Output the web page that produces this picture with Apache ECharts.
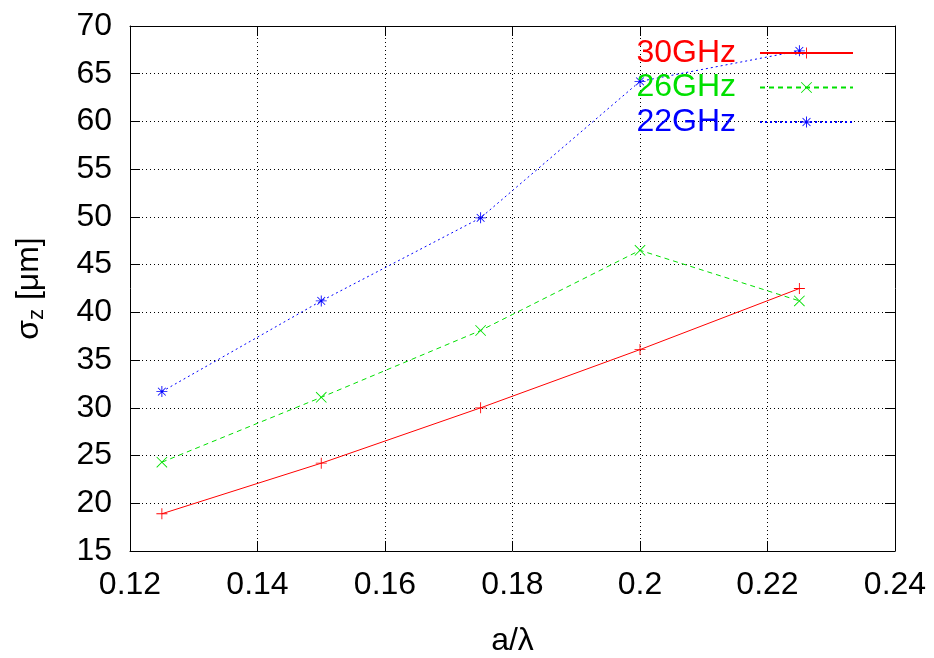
<!DOCTYPE html>
<html><head><meta charset="utf-8">
<script src="https://cdn.jsdelivr.net/npm/echarts@6/dist/echarts.min.js"></script>
<style>html,body{margin:0;padding:0;background:#fff;overflow:hidden}#c{width:934px;height:658px}</style>
</head><body><div id="c"></div>
<script>
const xValues = [0.125, 0.15, 0.175, 0.2, 0.225];
const s30 = [18.9, 24.2, 30.0, 36.1, 42.5];
const s26 = [24.3, 31.1, 38.1, 46.5, 41.2];
const s22 = [31.7, 41.2, 49.9, 64.2, 67.4];
const seriesNames = ['30GHz', '26GHz', '22GHz'];
const xTicks = [0.12, 0.14, 0.16, 0.18, 0.2, 0.22, 0.24];
const yTicks = [15, 20, 25, 30, 35, 40, 45, 50, 55, 60, 65, 70];

const PLUS = 'path://M-0.8,-10 L0.8,-10 L0.8,10 L-0.8,10 Z M-10,-0.8 L10,-0.8 L10,0.8 L-10,0.8 Z';
const CROSS = 'path://M-10,-8.9 L-8.9,-10 L10,8.9 L8.9,10 Z M8.9,-10 L10,-8.9 L-8.9,10 L-10,8.9 Z';
const STAR = 'path://M-0.8,-10 L0.8,-10 L0.8,10 L-0.8,10 Z M-10,-0.8 L10,-0.8 L10,0.8 L-10,0.8 Z M-7.6,-6.5 L-6.5,-7.6 L7.6,6.5 L6.5,7.6 Z M6.5,-7.6 L7.6,-6.5 L-6.5,7.6 L-7.6,6.5 Z';

const font = 'Liberation Sans';
const FS = 32;
const pair = arr => xValues.map((x, i) => [x, arr[i]]);
const mk = (name, data, color, type, sym) => ({
  name, type: 'line', data: pair(data), xAxisIndex: 0, yAxisIndex: 0,
  symbol: sym, symbolSize: 11,
  itemStyle: { color: color },
  lineStyle: { color: color, width: 1, type: type },
  emphasis: { disabled: true }, animation: false
});
const fmt = ticks => v => { const t = ticks.find(a => Math.abs(a - v) < 1e-9); return t === undefined ? '' : String(t); };

const chart = echarts.init(document.getElementById('c'), null, { renderer: 'canvas' });
chart.setOption({
  animation: false,
  grid: { left: 130, right: 39, top: 26, bottom: 107, containLabel: false, outerBoundsMode: 'none' },
  legend: {
    orient: 'vertical', right: 75, top: 32, align: 'right',
    itemWidth: 93, itemHeight: 14, itemGap: 2.5,
    data: [
      { name: seriesNames[0], textStyle: { color: '#ff0000' } },
      { name: seriesNames[1], textStyle: { color: '#00e000' } },
      { name: seriesNames[2], textStyle: { color: '#0000ff' } }
    ],
    textStyle: { fontFamily: font, fontSize: FS, lineHeight: 32, padding: [0, 19, 0, 0] },
    selectedMode: false
  },
  xAxis: [{
    type: 'value', min: 0.12, max: 0.24, interval: 0.02,
    name: 'a/λ', nameLocation: 'middle', nameGap: 74,
    nameTextStyle: { fontFamily: font, fontSize: FS, color: '#000' },
    axisLine: { show: true, lineStyle: { color: '#000', width: 1 } },
    axisTick: { show: true, inside: true, length: 10, lineStyle: { color: '#000' } },
    axisLabel: { fontFamily: font, fontSize: FS, color: '#000', margin: 18, formatter: fmt(xTicks) },
    splitLine: { show: true, lineStyle: { color: '#000', type: [1, 3], width: 1 } }
  }, {
    type: 'value', min: 0.12, max: 0.24, interval: 0.02, position: 'top',
    axisLine: { show: true, lineStyle: { color: '#000', width: 1 } },
    axisTick: { show: true, inside: true, length: 10, lineStyle: { color: '#000' } },
    axisLabel: { show: false }, splitLine: { show: false }
  }],
  yAxis: [{
    type: 'value', min: 15, max: 70, interval: 5,
    name: '{s|σ}{sub|z}{s| [μm]}', nameLocation: 'middle', nameGap: 82, nameRotate: 90,
    nameTextStyle: { fontFamily: font, fontSize: FS, color: '#000',
      rich: { s: { fontFamily: font, fontSize: FS, color: '#000' },
              sub: { fontFamily: font, fontSize: 22, color: '#000', verticalAlign: 'bottom', padding: [16, 0, 0, 0] } } },
    axisLine: { show: true, lineStyle: { color: '#000', width: 1 } },
    axisTick: { show: true, inside: true, length: 10, lineStyle: { color: '#000' } },
    axisLabel: { fontFamily: font, fontSize: FS, color: '#000', margin: 18, formatter: fmt(yTicks) },
    splitLine: { show: true, lineStyle: { color: '#000', type: [1, 3], width: 1 } }
  }, {
    type: 'value', min: 15, max: 70, interval: 5, position: 'right',
    axisLine: { show: true, lineStyle: { color: '#000', width: 1 } },
    axisTick: { show: true, inside: true, length: 10, lineStyle: { color: '#000' } },
    axisLabel: { show: false }, splitLine: { show: false }
  }],
  series: [
    mk(seriesNames[0], s30, '#ff0000', 'solid', PLUS),
    mk(seriesNames[1], s26, '#00e000', [5, 4], CROSS),
    mk(seriesNames[2], s22, '#0000ff', [2, 3], STAR)
  ]
});
</script></body></html>
